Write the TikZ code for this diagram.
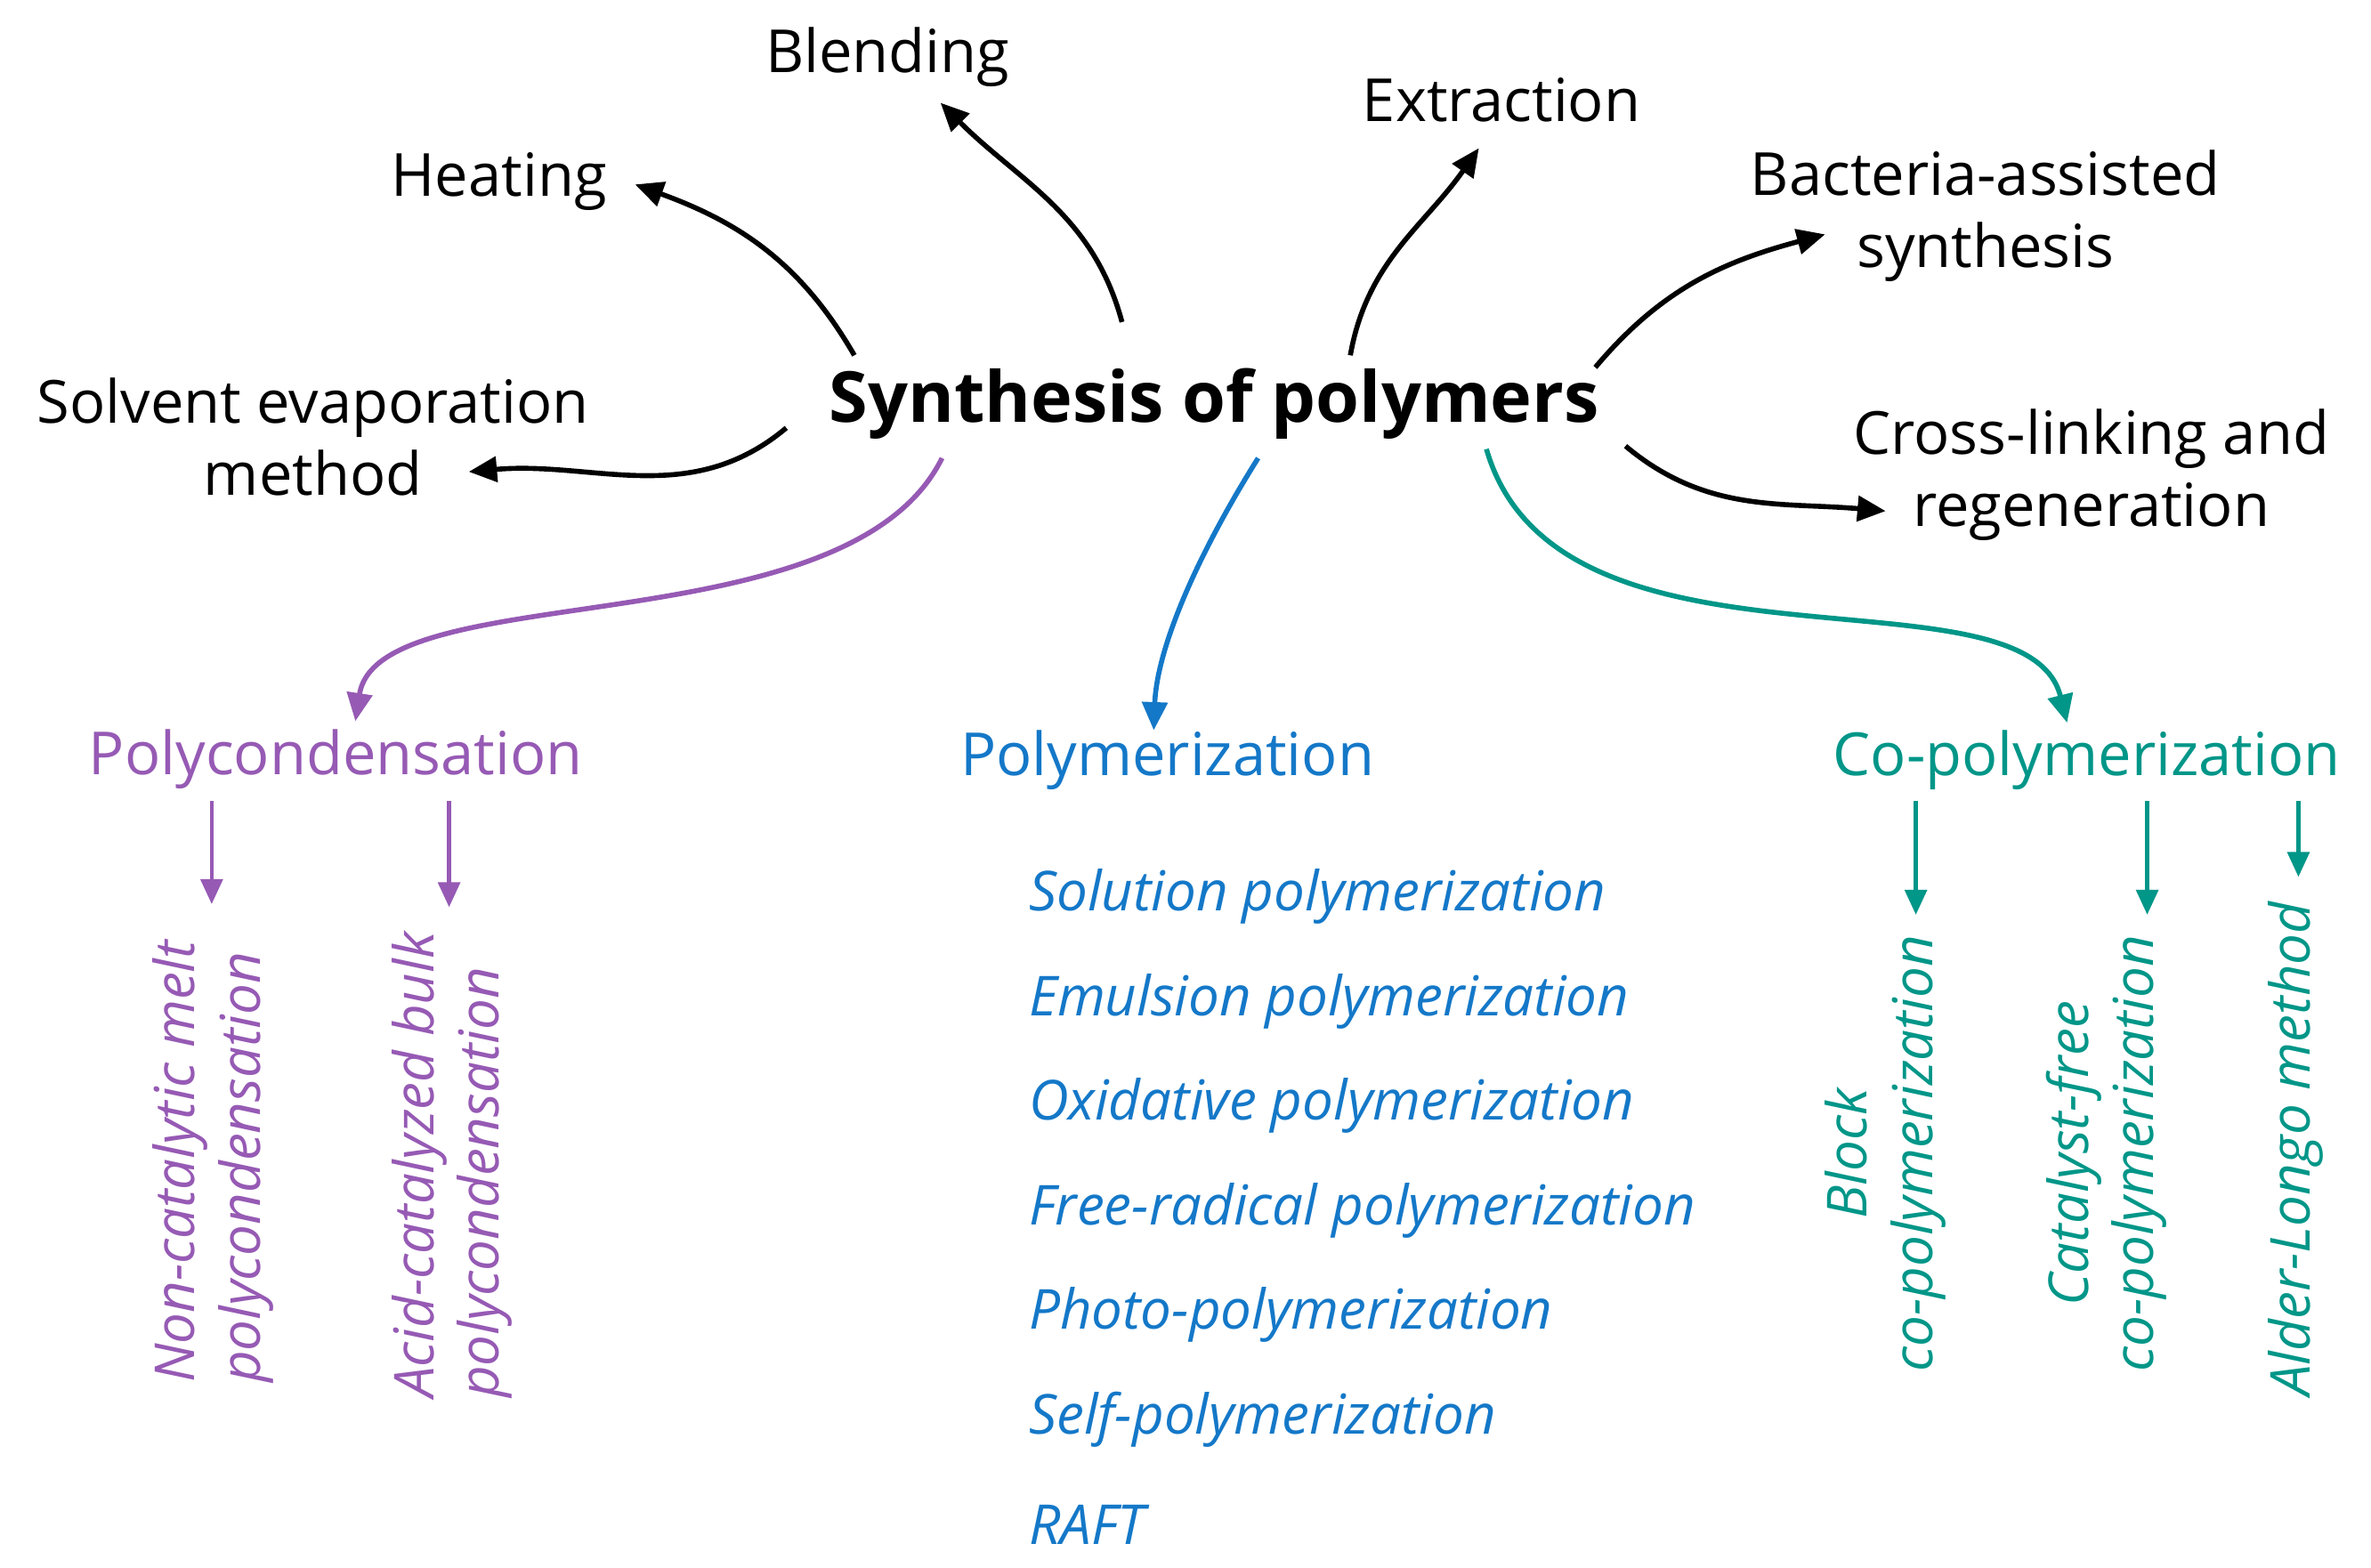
\documentclass[tikz,border=0pt]{standalone}
\usepackage{fontspec}
\setmainfont{Open Sans}
\usetikzlibrary{arrows.meta}
\definecolor{pcond}{RGB}{150,90,180}
\definecolor{pmer}{RGB}{20,120,200}
\definecolor{copol}{RGB}{0,150,136}
\tikzset{
  lbl/.style={font=\fontsize{19}{23}\selectfont, align=center, inner sep=0pt},
  sub/.style={font=\fontsize{17.6}{21}\selectfont\itshape, inner sep=0pt},
  arr/.style={line width=1.6pt, -{Triangle[length=9pt,width=8pt]}},
  sarr/.style={line width=1.3pt, -{Triangle[length=8pt,width=7pt]}}
}
\begin{document}
\begin{tikzpicture}[x=0.01699cm,y=-0.01699cm]
\useasboundingbox (0,0) rectangle (1568,1037);

% main topic
\node[font=\fontsize{22.5}{26}\selectfont\bfseries, inner sep=0pt] (syn) at (803,267) {Synthesis of polymers};

% processing methods
\node[lbl] (heat) at (330,120) {Heating};
\node[lbl] (blend) at (587,38) {Blending};
\node[lbl] (extr) at (993,66) {Extraction};
\node[lbl] (bact) at (1313,143) {Bacteria-assisted\\synthesis};
\node[lbl] (cross) at (1383,314) {Cross-linking and\\regeneration};
\node[lbl] (solv) at (207,289) {Solvent evaporation\\method};

\coordinate (s1) at (565,235);
\coordinate (s2) at (742,213);
\coordinate (s3) at (893,235);
\coordinate (s4) at (1055,243);
\coordinate (s5) at (1075,295);
\coordinate (s6) at (520,283);
\coordinate (e1) at (420,122);
\coordinate (e2) at (622,68);
\coordinate (e3) at (978,98);
\coordinate (e4) at (1207,155);
\coordinate (e5) at (1247,338);
\coordinate (e6) at (310,312);

\draw[arr] (s1) to[out=120,in=-20] (e1);
\draw[arr] (s2) to[out=105,in=-45] (e2);
\draw[arr] (s3) to[out=80,in=-125] (e3);
\draw[arr] (s4) to[out=50,in=-165] (e4);
\draw[arr] (s5) to[out=-40,in=175] (e5);
\draw[arr] (s6) to[out=-140,in=5] (e6);

% synthesis routes
\node[lbl, text=pcond] (pc) at (222,502) {Polycondensation};
\node[lbl, text=pmer] (pm) at (772,503) {Polymerization};
\node[lbl, text=copol] (cp) at (1380,503) {Co-polymerization};

\coordinate (r1) at (623,303);
\coordinate (r2) at (832,303);
\coordinate (r3) at (983,297);
\draw[arr, pcond] (r1) .. controls (560,430) and (250,380) .. (235,477);
\draw[arr, pmer] (r2) .. controls (790,370) and (765,430) .. (763,483);
\draw[arr, copol] (r3) .. controls (1030,460) and (1340,370) .. (1367,478);

% polycondensation types
\node[sub, text=pcond, rotate=90, anchor=west, align=left] (nc) at (141,915) {Non-catalytic melt\\polycondensation};
\node[sub, text=pcond, rotate=90, anchor=west, align=left] (ac) at (299,925) {Acid-catalyzed bulk\\polycondensation};
\draw[sarr, pcond] (140,530) -- (140,598);
\draw[sarr, pcond] (297,530) -- (297,600);

% polymerization types
\foreach \t [count=\i] in {Solution polymerization, Emulsion polymerization,
  Oxidative polymerization, Free-radical polymerization, Photo-polymerization,
  Self-polymerization, RAFT}
  \node[sub, text=pmer, anchor=west] (pt\i) at (680,{593+69.2*(\i-1)}) {\t};

% co-polymerization types
\node[sub, text=copol, rotate=90, align=center] (bl) at (1247,763) {Block\\co-polymerization};
\node[sub, text=copol, rotate=90, align=center] (cf) at (1393,763) {Catalyst-free\\co-polymerization};
\node[sub, text=copol, rotate=90] (al) at (1518,760) {Alder-Longo method};
\draw[sarr, copol] (1267,530) -- (1267,605);
\draw[sarr, copol] (1420,530) -- (1420,605);
\draw[sarr, copol] (1520,530) -- (1520,580);

\end{tikzpicture}
\end{document}
